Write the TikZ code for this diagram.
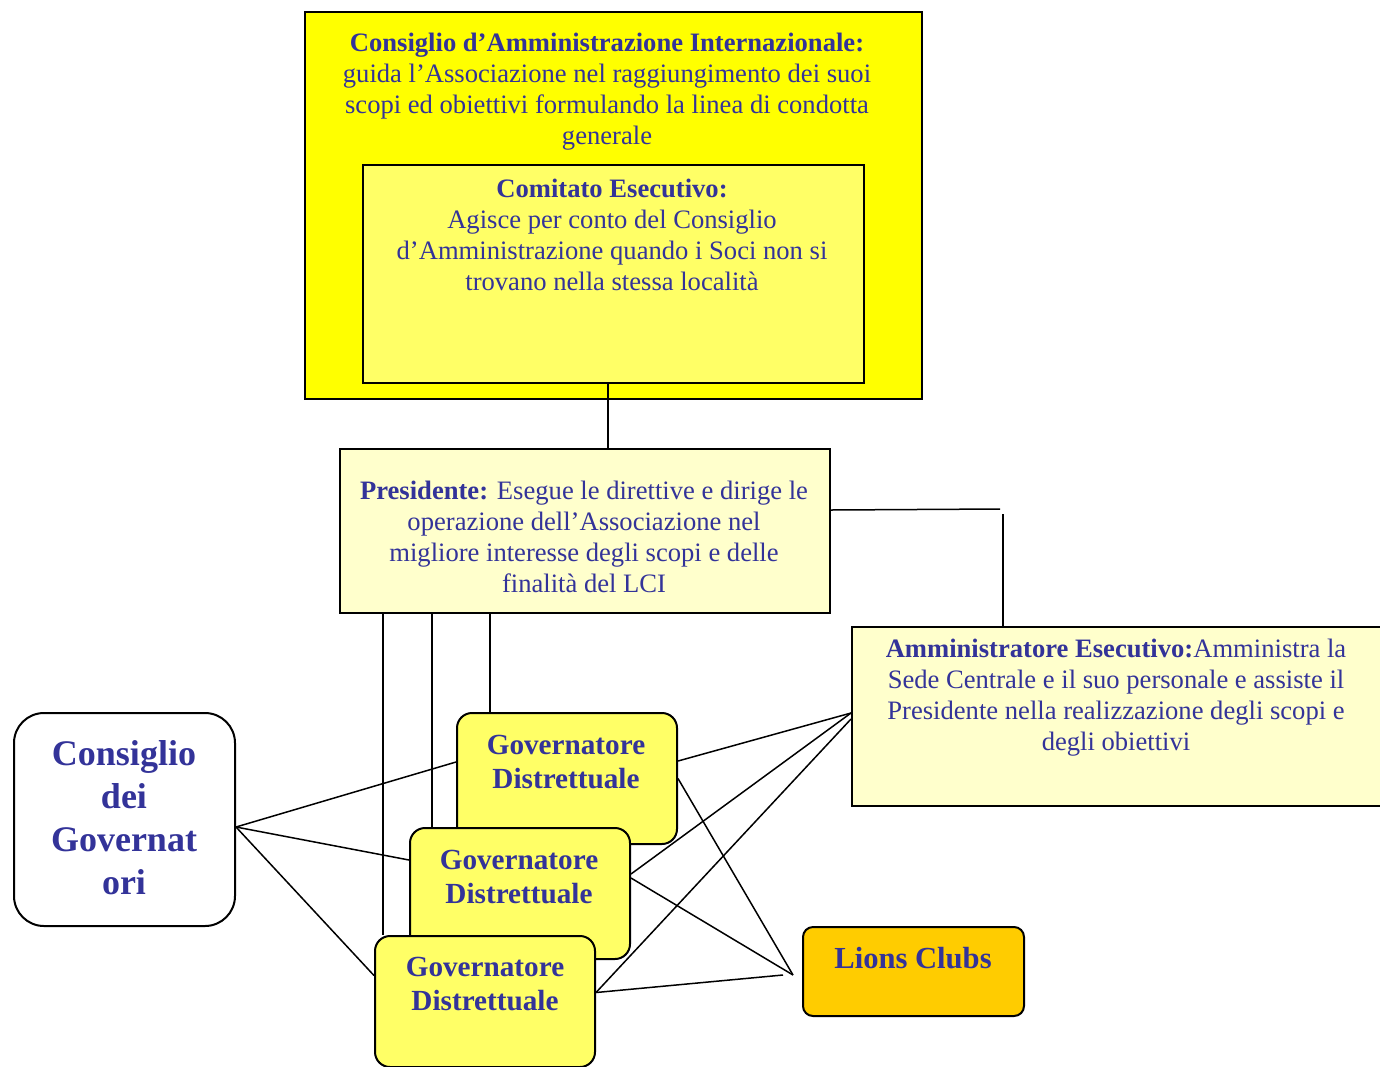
\documentclass[tikz,border=0pt]{standalone}
\usepackage{fontspec}
\setmainfont{Liberation Serif}
\usetikzlibrary{calc}
\definecolor{lcblue}{HTML}{333399}
\definecolor{caiyellow}{HTML}{FFFF00}
\definecolor{govyellow}{HTML}{FFFF66}
\definecolor{paleyellow}{HTML}{FFFFCC}
\definecolor{lionsorange}{HTML}{FFCC00}
\begin{document}
\begin{tikzpicture}[x=0.5pt, y=-0.5pt,
box/.style={draw, line width=1pt, inner sep=0, anchor=north west},
govbox/.style={box, fill=govyellow, rounded corners=7.5pt, minimum width=110pt, minimum height=65.5pt},
txt/.style={text=lcblue, align=center, inner sep=0, font=\fontsize{13.3}{15.5}\selectfont},
govtxt/.style={txt, font=\fontsize{14.6}{17}\selectfont\bfseries},
link/.style={line width=0.75pt}]

\useasboundingbox (0,0) rectangle (1380,1066);

\node (cai) [box, fill=caiyellow, minimum width=308.5pt, minimum height=193.5pt] at (304,11) {};
\node (ce) [box, fill=govyellow, minimum width=250.5pt, minimum height=109pt] at (362,164) {};
\node (pres) [box, fill=paleyellow, minimum width=245pt, minimum height=82pt] at (339,448) {};
\node (amm) [box, fill=paleyellow, minimum width=265pt, minimum height=89.5pt] at (851,626) {};
\node (cdg) [box, fill=white, rounded corners=15pt, minimum width=110.5pt, minimum height=106.5pt] at (13,712) {};
\node (gov1) [govbox] at (456,712) {};
\node (gov2) [govbox] at (409,827) {};
\node (gov3) [govbox] at (374,935) {};
\node (lions) [box, fill=lionsorange, rounded corners=5pt, minimum width=110.5pt, minimum height=44.5pt] at (802,926) {};

\node (caitxt) [txt] at (607,92) {\textbf{Consiglio d’Amministrazione Internazionale:}\\guida l’Associazione nel raggiungimento dei suoi\\scopi ed obiettivi formulando la linea di condotta\\generale};
\node (cetxt) [txt] at (612,235) {\textbf{Comitato Esecutivo:}\\Agisce per conto del Consiglio\\d’Amministrazione quando i Soci non si\\trovano nella stessa località};
\node (prestxt) [txt] at (584,537) {\textbf{Presidente:} Esegue le direttive e dirige le\\operazione dell’Associazione nel\\migliore interesse degli scopi e delle\\finalità del LCI};
\node (ammtxt) [txt] at (1116,698) {\textbf{Amministratore Esecutivo:}Amministra la\\Sede Centrale e il suo personale e assiste il\\Presidente nella realizzazione degli scopi e\\degli obiettivi};
\node (cdgtxt) [txt, font=\fontsize{18}{21.5}\selectfont\bfseries] at (124,818) {Consiglio\\dei\\Governat\\ori};
\node (gov1txt) [govtxt] at (566,762) {Governatore\\Distrettuale};
\node (gov2txt) [govtxt] at (519,877) {Governatore\\Distrettuale};
\node (gov3txt) [govtxt] at (485,984) {Governatore\\Distrettuale};
\node (lionstxt) [govtxt, font=\fontsize{15.3}{17}\selectfont\bfseries] at (913,958) {Lions Clubs};

\draw[link] ([xshift=-2.75pt]ce.south) -- ([xshift=-2.75pt]ce.south |- pres.north);

\coordinate (presbend) at (1000,509);
\coordinate (ammdrop) at (1003,514);
\draw[link] ([yshift=10.5pt]pres.east) -- (presbend);
\draw[link] (ammdrop) -- (ammdrop |- amm.north);

\foreach \dx/\g in {22/gov3, 46.5/gov2, 75.5/gov1} {
\draw[link] ([xshift=\dx pt]pres.south west) -- ([xshift=\dx pt]pres.south west |- \g.north);
};

\coordinate (cdgout) at ([yshift=-3.75pt]cdg.east);
\draw[link] (cdgout) -- ([yshift=8.25pt]gov1.west);
\draw[link] (cdgout) -- ([yshift=16.75pt]gov2.west);
\draw[link] (cdgout) -- ([yshift=13pt]gov3.west);

\draw[link] ([yshift=1.75pt]amm.west) -- ([yshift=8.75pt]gov1.east);
\draw[link] ([yshift=1.75pt]amm.west) -- ([yshift=9.75pt]gov2.east);
\draw[link] ([yshift=-1.25pt]amm.west) -- ([yshift=4.5pt]gov3.east);

\coordinate (hub) at (793,975);
\coordinate (hubend) at (783,975);
\draw[link] (gov1.east) -- (hub);
\draw[link] ([yshift=7.75pt]gov2.east) -- (hub);
\draw[link] ([yshift=4.5pt]gov3.east) -- (hubend);

\end{tikzpicture}
\end{document}
